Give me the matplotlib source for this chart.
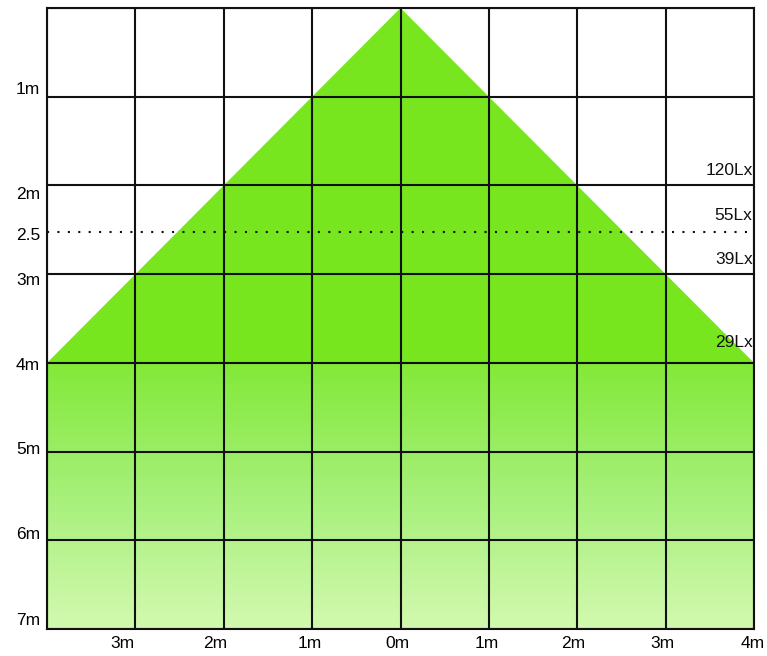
import numpy as np
import matplotlib.pyplot as plt
import matplotlib.transforms as mtransforms
from matplotlib.colors import LinearSegmentedColormap

plt.rcParams['font.family'] = ['Liberation Sans', 'DejaVu Sans']

# detection area (metres): cone from the sensor down to 4m, then full width
cone_x = [-4, 0, 4]
cone_y = [4, 0, 4]
half_width = 4
cone_depth = 4
max_depth = 7

depth_ticks = [1, 2, 2.5, 3, 4, 5, 6, 7]
depth_labels = ['1m', '2m', '2.5', '3m', '4m', '5m', '6m', '7m']
width_ticks = [-3, -2, -1, 0, 1, 2, 3, 4]
width_labels = ['3m', '2m', '1m', '0m', '1m', '2m', '3m', '4m']

lux_depth = [2, 2.5, 3, 4]
lux_labels = ['120Lx', '55Lx', '39Lx', '29Lx']

fig = plt.figure(figsize=(7.67, 6.56), dpi=100)
ax = fig.add_axes([47 / 767, 27 / 656, 707 / 767, 621 / 656])

# solid green cone
ax.fill(cone_x + [cone_x[0]], cone_y + [cone_y[0]], color='#78e61e', lw=0, zorder=1)

# gradient below the cone
cmap = LinearSegmentedColormap.from_list('g', ['#82e938', '#a6f07a', '#d3f9b0'])
grad = np.linspace(0, 1, 256).reshape(-1, 1)
ax.imshow(grad, cmap=cmap, aspect='auto', interpolation='bilinear',
          extent=[-half_width, half_width, max_depth, cone_depth], zorder=1)

# grid
for gx in range(-half_width, half_width + 1):
    ax.axvline(gx, color='#111111', lw=1.5, zorder=2)
for gy in range(0, max_depth + 1):
    ax.axhline(gy, color='#111111', lw=1.5, zorder=2)

ax.plot([-half_width, half_width], [2.53, 2.53], color='#111111', lw=1.5,
        linestyle=(0, (1, 4)), dash_capstyle='butt', zorder=3)

lux_up = [5, 5, 5, 9]
for d, lab, up in zip(lux_depth, lux_labels, lux_up):
    ax.annotate(lab, (half_width, d), xytext=(-1, up), textcoords='offset points',
                ha='right', va='bottom', fontsize=12.5, color='#111111', zorder=4)

ax.set_xlim(-half_width, half_width)
ax.set_ylim(max_depth, 0)
ax.set_xticks(width_ticks)
ax.set_xticklabels(width_labels, fontsize=12.5)
ax.set_yticks(depth_ticks)
ax.set_yticklabels(depth_labels, fontsize=12.5)
ax.tick_params(length=0)
ax.tick_params(axis='y', pad=5)
ax.tick_params(axis='x', pad=5)

# the labels in the original sit a bit off their lines
y_nudge = [9, -8, -4, -5, -1, 4, 7, 10]
for lab, dy in zip(ax.get_yticklabels(), y_nudge):
    lab.set_transform(lab.get_transform() + mtransforms.ScaledTranslation(0, dy / 100, fig.dpi_scale_trans))
x_nudge = [-13, -9, -2, -3, -2, -4, -3, -1]
for lab, dx in zip(ax.get_xticklabels(), x_nudge):
    lab.set_transform(lab.get_transform() + mtransforms.ScaledTranslation(dx / 100, 0, fig.dpi_scale_trans))

for s in ax.spines.values():
    s.set_linewidth(1.5)
    s.set_color('#111111')

fig.savefig('out.png', dpi=100)
